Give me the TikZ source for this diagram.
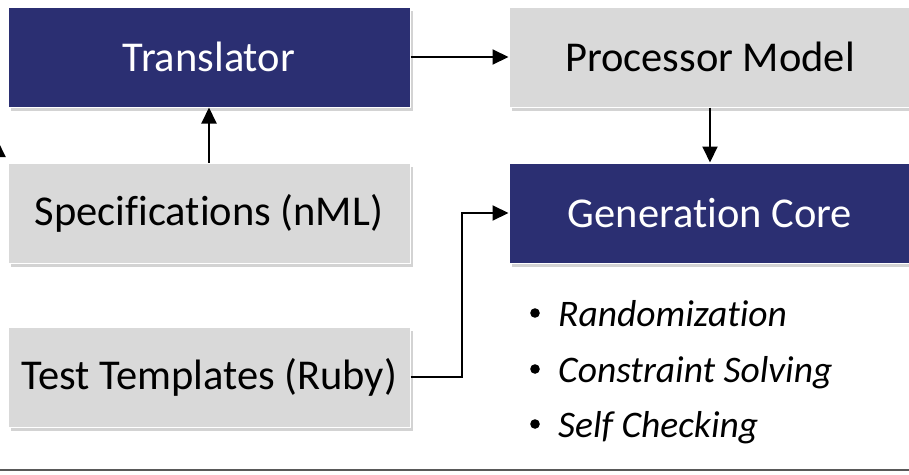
\documentclass[tikz,border=0pt]{standalone}
\usepackage{fontspec}
\setmainfont[Ligatures=NoCommon]{Carlito}
\usetikzlibrary{positioning,arrows.meta,shadows}

\definecolor{coreblue}{HTML}{2B2F72}
\definecolor{boxgray}{HTML}{D9D9D9}

\begin{document}
\begin{tikzpicture}[x=1pt,y=-1pt,on grid,
	every node/.style={inner sep=0pt},
	box/.style={minimum width=402pt,minimum height=100pt,draw=white,line width=1pt,
		font=\fontsize{42.5}{46}\selectfont,
		drop shadow={shadow xshift=3pt,shadow yshift=-4pt,opacity=0.35}},
	darkbox/.style={box,fill=coreblue,text=white},
	lightbox/.style={box,fill=boxgray,text=black},
	item/.style={anchor=base west,font=\fontsize{37.5}{40}\selectfont\itshape},
	link/.style={line width=2pt,-{Triangle[length=16pt,width=15pt]}}]
	\useasboundingbox (0,0) rectangle (909,474);
	\clip (0,0) rectangle (909,474);
	% Boxes
	\node[darkbox] (trans) at (209,57) {Translator};
	\node[lightbox,right=501pt of trans] (proc) {Processor Model};
	\node[lightbox,below=156pt of trans] (spec) {Specifications (nML)};
	\node[darkbox,below=156pt of proc] (core) {Generation Core};
	\node[lightbox,below=164pt of spec] (tmpl) {Test Templates (Ruby)};
	% Arrows
	\draw[link] (trans) -- (proc);
	\draw[link] (proc) -- (core);
	\draw[link] (spec) -- (trans);
	\draw[link] (tmpl.east) -- ++(51,0) |- (core.west);
	\coordinate (offl) at (-2,175);
	\coordinate (offt) at (-2,141);
	\draw[link] (offl) -- (offt);
	% Features of the core
	\node[item] (rand) at (558,326) {Randomization};
	\node[item] (cons) at (558,382) {Constraint Solving};
	\node[item] (self) at (558,437) {Self Checking};
	\foreach \n in {rand,cons,self}
		\fill ([xshift=-23pt,yshift=13pt]\n.base west) circle (4.8pt);
	% Bottom rule
	\draw[line width=2pt,black!65] (0,470) -- (909,470);
\end{tikzpicture}
\end{document}
